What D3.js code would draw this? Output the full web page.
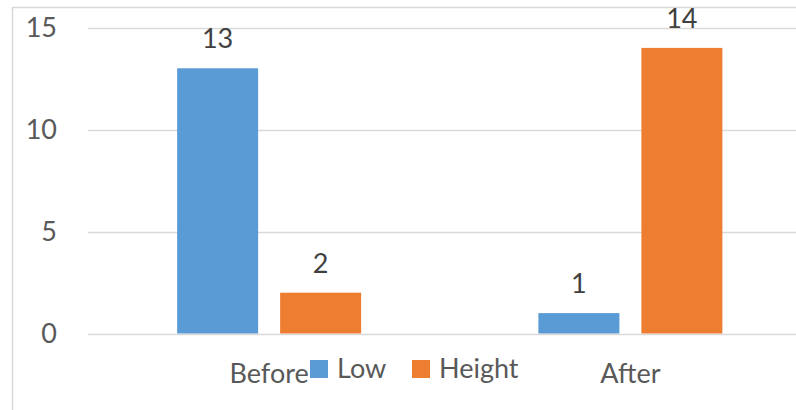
<!DOCTYPE html>
<html>
<head>
<meta charset="utf-8">
<script src="https://cdn.jsdelivr.net/npm/d3@7"></script>
<style>
  body { margin: 0; background: #fff; }
  svg { display: block; font-family: Lato, "Open Sans", sans-serif; }
</style>
</head>
<body>
<svg id="chart" width="796" height="410"></svg>
<script>
// chart data
const categories = ['Before', 'After'];
const seriesNames = ['Low', 'Height'];
const lowValues = [13, 1];
const heightValues = [2, 14];
const yTicks = [0, 5, 10, 15];
const colors = ['#5B9BD5', '#ED7D31'];

const svg = d3.select('#chart');
const W = 796, H = 410;
const FS = 27;

// plot area (right side runs past the picture edge)
const plot = { left: 88, right: 811, top: 27.5, bottom: 333.5 };

const y = d3.scaleLinear().domain([0, 15]).range([plot.bottom, plot.top]);
const x0 = d3.scaleBand().domain(categories).range([plot.left + 0.5, plot.right]);
const inner = 22 / 103;
const outer = (x0.bandwidth() / 103 - 2 + inner) / 2;
const x1 = d3.scaleBand().domain(seriesNames).range([0, x0.bandwidth()])
    .paddingInner(inner).paddingOuter(outer);

// outer border of chart area
svg.append('rect')
    .attr('x', 12.5).attr('y', 7.5)
    .attr('width', W).attr('height', H)
    .attr('fill', 'none').attr('stroke', '#d9d9d9').attr('stroke-width', 1.5);

// gridlines
svg.append('g').selectAll('line')
    .data(yTicks)
    .join('line')
    .attr('x1', plot.left).attr('x2', W)
    .attr('y1', d => Math.round(y(d)) + 0.5).attr('y2', d => Math.round(y(d)) + 0.5)
    .attr('stroke', '#d9d9d9').attr('stroke-width', 1.5);

// y tick labels
svg.append('g').selectAll('text')
    .data(yTicks)
    .join('text')
    .attr('x', 57).attr('y', d => y(d))
    .attr('dy', '0.36em')
    .attr('text-anchor', 'end')
    .attr('font-size', FS)
    .attr('fill', '#595959')
    .text(d => d);

// bars
const rows = categories.map((c, i) => ({ cat: c, vals: [lowValues[i], heightValues[i]] }));
const group = svg.append('g').selectAll('g')
    .data(rows)
    .join('g')
    .attr('transform', d => `translate(${x0(d.cat)},0)`);

const bars = group.selectAll('g')
    .data(d => d.vals.map((v, j) => ({ name: seriesNames[j], v, j })))
    .join('g');

bars.append('rect')
    .attr('x', d => x1(d.name))
    .attr('width', x1.bandwidth())
    .attr('y', d => y(d.v))
    .attr('height', d => y(0) - y(d.v))
    .attr('fill', d => colors[d.j]);

bars.append('text')
    .attr('x', d => x1(d.name) + x1.bandwidth() / 2)
    .attr('y', d => y(d.v) - 20)
    .attr('text-anchor', 'middle')
    .attr('font-size', FS)
    .attr('fill', '#404040')
    .text(d => d.v);

// category labels
svg.append('g').selectAll('text')
    .data(categories)
    .join('text')
    .attr('x', d => x0(d) + x0.bandwidth() / 2)
    .attr('y', 383)
    .attr('text-anchor', 'middle')
    .attr('font-size', FS)
    .attr('fill', '#595959')
    .text(d => d);

// legend
const legendX = [310, 412];
const legend = svg.append('g').selectAll('g')
    .data(seriesNames)
    .join('g')
    .attr('transform', (d, i) => `translate(${legendX[i]},360)`);

legend.append('rect')
    .attr('width', 18).attr('height', 18)
    .attr('fill', (d, i) => colors[i]);

legend.append('text')
    .attr('x', 27).attr('y', 18)
    .attr('font-size', FS)
    .attr('fill', '#595959')
    .text(d => d);
</script>
</body>
</html>
